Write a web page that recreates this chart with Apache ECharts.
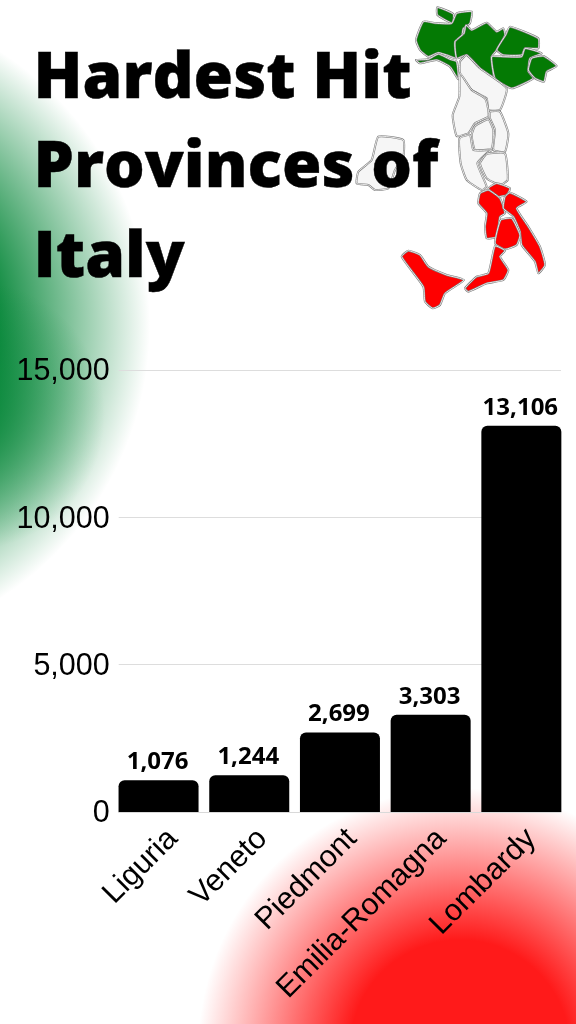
<!DOCTYPE html>
<html><head><meta charset="utf-8">
<script src="https://cdn.jsdelivr.net/npm/echarts@6/dist/echarts.min.js"></script>
<style>html,body{margin:0;padding:0;background:#fff}#c{width:576px;height:1024px}</style></head>
<body><div id="c"></div>
<script>
const titleText = 'Hardest Hit\nProvinces of\nItaly';
const categories = ['Liguria','Veneto','Piedmont','Emilia-Romagna','Lombardy'];
const deaths = [1076,1244,2699,3303,13106];
const yMax = 15000, yStep = 5000;

const greenShapes = [
 [[292,22],[340,42],[338,70],[292,45]],
 [[228,120],[250,65],[290,70],[335,70],[350,40],[395,35],[390,70],[370,85],[365,110],[345,125],[350,175],[320,165],[295,158],[265,170],[240,150]],
 [[228,180],[265,178],[295,162],[330,178],[350,185],[355,238],[330,200],[290,180],[240,190]],
 [[345,125],[372,100],[378,75],[395,90],[440,68],[470,95],[490,85],[495,105],[470,150],[455,170],[460,230],[420,205],[380,165],[350,175]],
 [[510,80],[595,115],[595,145],[555,145],[545,165],[490,165],[470,150],[497,105]],
 [[455,170],[490,170],[545,170],[555,145],[605,160],[570,175],[565,215],[580,235],[515,265],[465,235]],
 [[575,175],[610,168],[650,198],[620,215],[612,245],[585,235],[565,210]]
];
const whiteShapes = [
 [[360,185],[380,165],[420,205],[500,265],[480,330],[445,330],[440,295],[395,270],[360,220]],
 [[360,220],[395,270],[435,295],[445,330],[445,350],[405,370],[385,400],[350,408],[338,345],[358,290]],
 [[450,335],[480,335],[505,400],[495,455],[460,450],[465,390],[450,355]],
 [[395,405],[405,378],[445,358],[460,390],[455,445],[405,450]],
 [[358,415],[390,405],[400,450],[455,450],[440,460],[412,490],[440,560],[425,570],[380,540],[362,490]],
 [[440,462],[495,460],[503,540],[480,555],[440,535],[420,490]],
 [[115,410],[190,420],[190,470],[165,510],[145,565],[105,570],[85,555],[50,550],[55,515],[95,480]]
];
const redShapes = [
 [[445,565],[470,550],[510,565],[500,585],[470,590]],
 [[420,580],[445,570],[480,595],[495,640],[480,650],[470,710],[440,715],[435,680],[440,640],[415,610]],
 [[495,590],[510,578],[560,605],[530,625],[565,680],[600,740],[615,795],[595,820],[585,785],[545,735],[540,695],[520,650],[490,625]],
 [[482,660],[515,655],[540,705],[530,735],[495,748],[465,730]],
 [[465,738],[495,752],[480,770],[505,810],[490,840],[440,850],[385,875],[375,865],[410,830],[445,820]],
 [[185,770],[205,752],[240,765],[265,800],[320,825],[372,840],[315,880],[300,915],[278,925],[255,905],[250,860]]
];
const poly = (pts, fill) => [
  {type:'polygon', shape:{points:pts, smooth:0.15}, style:{fill, stroke:'#7c7c7c', lineWidth:6, lineJoin:'round'}},
  {type:'polygon', shape:{points:pts, smooth:0.15}, style:{fill:'none', stroke:'#ffffff', lineWidth:2.5, lineJoin:'round'}}
];
const glow = (cx, cy, r, rgb, a, solid) => ({type:'circle', z:-5, shape:{cx, cy, r},
  style:{fill:new echarts.graphic.RadialGradient(0.5,0.5,0.5,[
    {offset:0, color:`rgba(${rgb},${a})`},
    {offset:solid, color:`rgba(${rgb},${a})`},
    {offset:1, color:`rgba(${rgb},0)`}])}});

const chart = echarts.init(document.getElementById('c'), null, {renderer:'canvas'});
chart.setOption({
  animation:false,
  backgroundColor:'#fff',
  title:{text:titleText, left:33.5, top:35, padding:0, textStyle:{fontFamily:'Open Sans', fontWeight:800, fontSize:64, lineHeight:89.5, color:'#000', textBorderColor:'#000', textBorderWidth:0.4}},
  graphic:[
    glow(-175,325,325,'0,132,52',1,0.5),
    glow(-30,415,135,'0,132,52',0.7,0.1),
    glow(460,1050,262,'255,26,26',1,0.42),
    {type:'group', x:340, y:0, scaleX:1/3, scaleY:1/3, z:1,
     children:[...greenShapes.flatMap(p=>poly(p,'#047a04')),...whiteShapes.flatMap(p=>poly(p,'#f6f6f6')),...redShapes.flatMap(p=>poly(p,'#fe0000'))]}
  ],
  grid:[
    {left:113.2, width:453.5, top:370, height:442},
    {left:118.7, width:442.3, top:370, height:442},
    {left:128.2, width:453.5, top:372, height:442}
  ],
  xAxis:[
    {type:'category', gridIndex:0, data:categories, axisLine:{show:false}, axisTick:{show:false}, axisLabel:{show:false}},
    {type:'category', gridIndex:1, data:categories,
     axisLine:{show:true, lineStyle:{color:'#d9d9d9'}}, axisTick:{show:false}, axisLabel:{show:false}},
    {type:'category', gridIndex:2, data:categories, axisLine:{show:false}, axisTick:{show:false},
     axisLabel:{rotate:45, interval:0, margin:20, color:'#000', fontFamily:'Liberation Sans', fontSize:30.5}}
  ],
  yAxis:[
    {type:'value', gridIndex:0, min:0, max:yMax, interval:yStep, show:false, splitLine:{show:false}},
    {type:'value', gridIndex:1, min:0, max:yMax, interval:yStep,
     axisLine:{show:false}, axisTick:{show:false}, axisLabel:{show:false},
     splitLine:{lineStyle:{color:'#dddddd', width:1}}},
    {type:'value', gridIndex:2, min:0, max:yMax, interval:yStep,
     axisLine:{show:false}, axisTick:{show:false}, splitLine:{show:false},
     axisLabel:{margin:18.5, color:'#000', fontFamily:'Liberation Sans', fontSize:30.5,
       formatter:v=>v.toLocaleString('en-US')}}
  ],
  series:[{type:'bar', xAxisIndex:0, yAxisIndex:0, data:deaths, barWidth:80,
    itemStyle:{color:'#000', borderRadius:[6,6,0,0]},
    label:{show:true, position:'top', distance:6, offset:[-1,0], color:'#000', fontFamily:'Open Sans', fontWeight:700, fontSize:24,
      formatter:p=>p.value.toLocaleString('en-US')}}]
});
</script></body></html>
